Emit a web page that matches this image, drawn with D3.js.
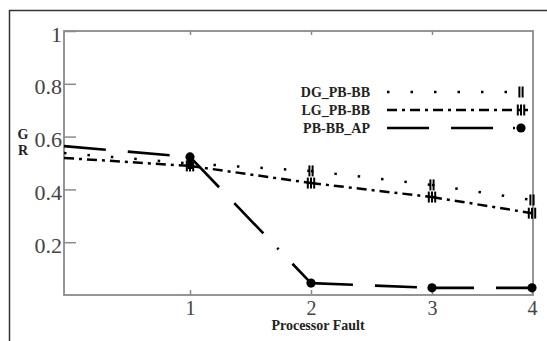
<!DOCTYPE html>
<html>
<head>
<meta charset="utf-8">
<script src="https://cdn.jsdelivr.net/npm/d3@7"></script>
<style>
  body { margin: 0; background: #fff; }
  svg { display: block; }
  text { font-family: "Liberation Serif", "Times New Roman", serif; }
</style>
</head>
<body>
<svg id="chart"></svg>
<script>
// values
const faults = [0, 1, 2, 3, 4];
const seriesNames = ["DG_PB-BB", "LG_PB-BB", "PB-BB_AP"];
const dgValues = [0.538, 0.498, 0.47, 0.417, 0.36];
const lgValues = [0.519, 0.489, 0.424, 0.371, 0.31];
const apValues = [0.564, 0.523, 0.045, 0.027, 0.027];
const yTicks = [0.2, 0.4, 0.6, 0.8, 1];
const xTicks = [1, 2, 3, 4];

const W = 547, H = 341;
const svg = d3.select("#chart").attr("width", W).attr("height", H);

// outer frame (only top and left show)
svg.append("path")
  .attr("d", `M9.5,${H} V10.5 H${W}`)
  .attr("fill", "none").attr("stroke", "#333").attr("stroke-width", 1.5);

const box = { left: 64, right: 533, top: 31, bottom: 295 };

// the ticks in the picture are not evenly spaced, so use a polylinear scale
const x = d3.scaleLinear().domain(faults).range([64, 190, 311, 432, 532]);
const y = d3.scaleLinear().domain([0, 1]).range([box.bottom, box.top]);

const gray = "#8a8a8a";

svg.append("rect")
  .attr("x", box.left).attr("y", box.top)
  .attr("width", box.right - box.left).attr("height", box.bottom - box.top)
  .attr("fill", "none").attr("stroke", gray).attr("stroke-width", 1.8);

const yAxis = svg.append("g")
  .attr("transform", `translate(${box.left},0)`)
  .call(d3.axisLeft(y).tickValues(yTicks).tickFormat(d3.format("")).tickSizeInner(-12).tickSizeOuter(0).tickPadding(2));
yAxis.select(".domain").remove();
yAxis.selectAll("line").attr("stroke", gray).attr("stroke-width", 1.5);
yAxis.selectAll("text")
  .attr("font-size", 22).attr("fill", "#444").attr("dy", "0.46em")
  .attr("font-family", "Liberation Serif");

const xAxis = svg.append("g")
  .attr("transform", `translate(0,${box.bottom})`)
  .call(d3.axisBottom(x).tickValues(xTicks).tickFormat(d3.format("d")).tickSizeInner(-5).tickSizeOuter(0).tickPadding(6));
xAxis.select(".domain").remove();
xAxis.selectAll("line").attr("stroke", gray).attr("stroke-width", 1.5);
xAxis.selectAll("text")
  .attr("font-size", 20).attr("fill", "#444")
  .attr("font-family", "Liberation Serif");

const topAxis = svg.append("g")
  .attr("transform", `translate(0,${box.top})`)
  .call(d3.axisTop(x).tickValues([1, 2, 3]).tickFormat("").tickSizeInner(-4).tickSizeOuter(0));
topAxis.select(".domain").remove();
topAxis.selectAll("line").attr("stroke", gray).attr("stroke-width", 1.5);

// axis titles
svg.append("text")
  .attr("x", 318).attr("y", 330).attr("text-anchor", "middle")
  .attr("font-size", 14).attr("font-weight", "bold").attr("fill", "#222")
  .text("Processor Fault");
svg.append("text")
  .attr("x", 23).attr("y", 139).attr("text-anchor", "middle")
  .attr("font-size", 14).attr("font-weight", "bold").attr("fill", "#222")
  .text("G");
svg.append("text")
  .attr("x", 23).attr("y", 155).attr("text-anchor", "middle")
  .attr("font-size", 14).attr("font-weight", "bold").attr("fill", "#222")
  .text("R");

// styles per series
const styles = {
  "DG_PB-BB": { dash: "2.5,21", width: 2.5, marker: "bars2" },
  "LG_PB-BB": { dash: "10,5,3,5", width: 2.5, marker: "bars3" },
  "PB-BB_AP": { dash: "42,22,42,20,2,20", width: 2.6, marker: "dot" }
};
const allValues = [dgValues, lgValues, apValues];

const line = d3.line().x(d => x(d[0])).y(d => y(d[1]));

function drawMarker(g, kind, cx, cy) {
  if (kind === "dot") {
    g.append("circle").attr("cx", cx).attr("cy", cy).attr("r", 4.6).attr("fill", "#000");
  } else {
    const n = kind === "bars2" ? 2 : 3;
    const step = 3.2;
    for (let i = 0; i < n; i++) {
      const bx = cx + (i - (n - 1) / 2) * step;
      g.append("line")
        .attr("x1", bx).attr("x2", bx)
        .attr("y1", cy - 5.5).attr("y2", cy + 5.5)
        .attr("stroke", "#000").attr("stroke-width", 2);
    }
  }
}

const plot = svg.append("g");
seriesNames.forEach((name, si) => {
  const st = styles[name];
  const pts = faults.map((f, i) => [f, allValues[si][i]]);
  // the dash pattern starts over at every point, so draw each segment alone
  d3.pairs(pts).forEach(seg => {
    plot.append("path")
      .attr("d", line(seg))
      .attr("fill", "none").attr("stroke", "#000")
      .attr("stroke-width", st.width).attr("stroke-dasharray", st.dash);
  });
  pts.filter(p => p[0] > 0).forEach(p => drawMarker(plot, st.marker, x(p[0]), y(p[1])));
});

// legend
const legend = svg.append("g");
seriesNames.forEach((name, i) => {
  const st = styles[name];
  const ly = 92 + i * 18;
  legend.append("text")
    .attr("x", 370).attr("y", ly + 5).attr("text-anchor", "end")
    .attr("font-size", 14).attr("font-weight", "bold").attr("fill", "#222")
    .text(name);
  legend.append("path")
    .attr("d", `M387,${ly} H${i === 2 ? 522 : 528}`)
    .attr("fill", "none").attr("stroke", "#000")
    .attr("stroke-width", st.width).attr("stroke-dasharray", st.dash);
  drawMarker(legend, st.marker, 521, ly);
});
</script>
</body>
</html>
